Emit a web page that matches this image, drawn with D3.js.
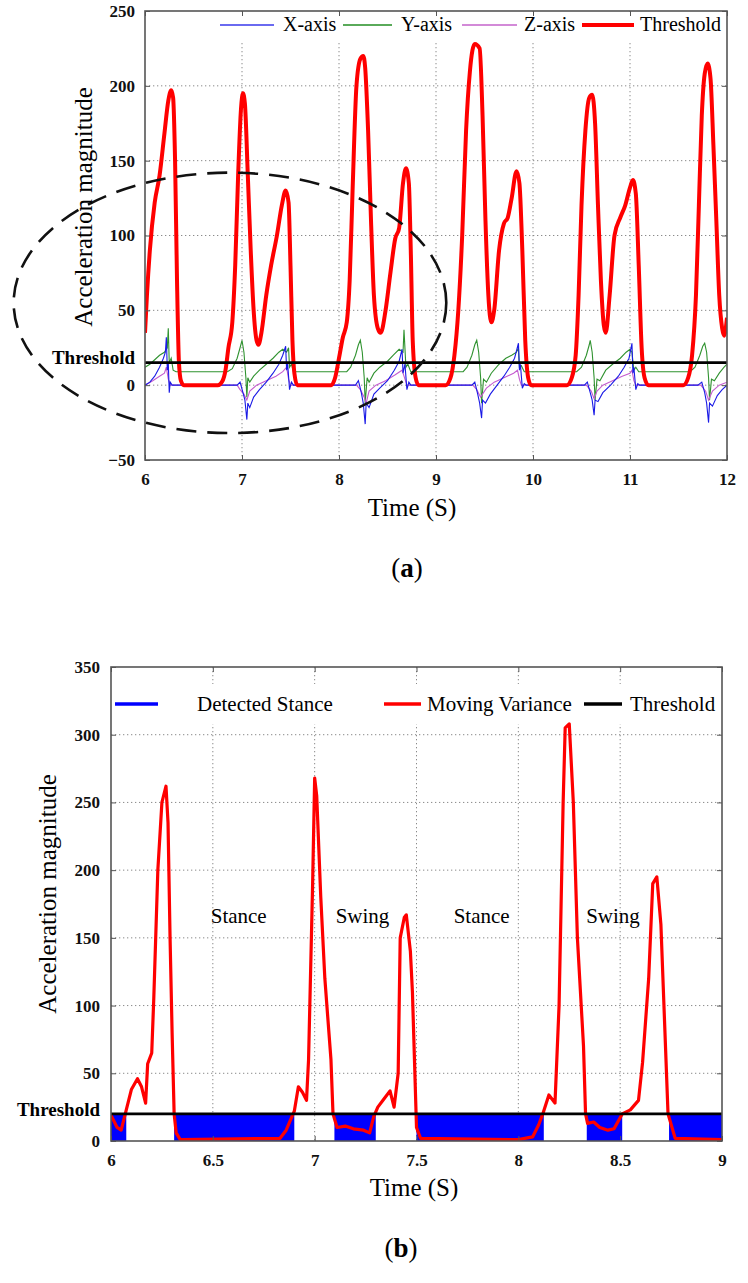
<!DOCTYPE html>
<html><head><meta charset="utf-8">
<script src="https://cdn.jsdelivr.net/npm/d3@7"></script>
<style>
body{margin:0;background:#fff}
svg{display:block}
</style>
</head><body>
<svg id="c" width="748" height="1283"></svg>
<script>
// ---------------- Chart (a) data ----------------
const xTicksA = [6, 7, 8, 9, 10, 11, 12];
const yTicksA = [-50, 0, 50, 100, 150, 200, 250];
const thresholdA = 15;
const legendA = ["X-axis", "Y-axis", "Z-axis", "Threshold"];
const magnitudeA = [
  [6.00,35],[6.02,60],[6.05,90],[6.10,122],[6.15,140],[6.20,168],[6.24,190],[6.27,197],[6.29,192],[6.31,150],[6.33,70],[6.35,15],[6.37,3],[6.40,0],
  [6.75,0],[6.80,3],[6.83,10],[6.86,25],[6.90,42],[6.93,80],[6.96,140],[6.99,185],[7.01,195],[7.03,188],[7.06,140],[7.09,90],[7.12,50],[7.15,30],[7.17,27],[7.20,35],[7.25,60],[7.30,80],[7.36,100],[7.41,120],[7.45,130],[7.48,122],[7.50,80],[7.52,30],[7.54,8],[7.57,0],
  [7.92,0],[7.96,5],[8.00,18],[8.04,32],[8.08,42],[8.11,70],[8.14,130],[8.18,200],[8.22,218],[8.25,220],[8.27,212],[8.30,170],[8.33,110],[8.36,60],[8.40,38],[8.43,35],[8.48,50],[8.53,75],[8.58,98],[8.62,105],[8.66,135],[8.69,145],[8.72,135],[8.74,90],[8.76,30],[8.79,5],[8.82,0],
  [9.10,0],[9.15,5],[9.19,20],[9.23,50],[9.27,100],[9.31,170],[9.35,210],[9.40,228],[9.45,225],[9.48,180],[9.51,110],[9.54,60],[9.57,42],[9.60,50],[9.65,90],[9.70,108],[9.74,112],[9.78,125],[9.83,143],[9.86,135],[9.89,90],[9.92,30],[9.95,5],[9.98,0],
  [10.35,0],[10.40,5],[10.44,20],[10.47,60],[10.50,120],[10.54,170],[10.58,192],[10.61,194],[10.64,175],[10.67,120],[10.70,70],[10.73,40],[10.75,35],[10.79,60],[10.84,100],[10.90,112],[10.95,120],[11.00,132],[11.03,137],[11.06,128],[11.09,80],[11.12,25],[11.15,5],[11.19,0],
  [11.55,0],[11.60,5],[11.64,20],[11.68,60],[11.71,120],[11.74,180],[11.77,208],[11.80,215],[11.83,205],[11.86,160],[11.89,110],[11.92,60],[11.95,38],[11.97,33],[12.00,45]
];
const xAxisA = [
  [6.00,0],[6.05,2],[6.10,6],[6.15,12],[6.19,18],[6.21,22],[6.22,32],[6.23,10],[6.24,15],[6.25,-5],[6.26,2],[6.28,0],
  [6.95,0],[6.98,2],[7.01,-5],[7.03,-10],[7.05,-23],[7.06,-12],[7.08,-15],[7.12,-8],[7.18,-3],[7.25,2],[7.32,8],[7.38,14],[7.42,20],[7.45,26],[7.46,10],[7.47,15],[7.49,-3],[7.51,2],[7.53,0],
  [8.17,0],[8.20,3],[8.23,-5],[8.25,-12],[8.27,-26],[8.28,-12],[8.31,-15],[8.36,-6],[8.42,-2],[8.50,3],[8.57,10],[8.62,16],[8.65,24],[8.66,8],[8.68,14],[8.70,-3],[8.72,2],[8.74,0],
  [9.37,0],[9.40,2],[9.43,-6],[9.45,-12],[9.47,-22],[9.48,-10],[9.51,-12],[9.56,-6],[9.63,0],[9.70,6],[9.76,12],[9.81,18],[9.85,28],[9.86,10],[9.87,14],[9.89,-2],[9.91,1],[9.93,0],
  [10.53,0],[10.56,2],[10.59,-5],[10.61,-10],[10.63,-20],[10.64,-10],[10.67,-11],[10.72,-5],[10.80,0],[10.88,6],[10.94,12],[10.99,18],[11.02,28],[11.03,8],[11.04,12],[11.06,-3],[11.08,1],[11.10,0],
  [11.70,0],[11.74,2],[11.77,-5],[11.79,-12],[11.81,-25],[11.82,-12],[11.85,-14],[11.90,-7],[11.95,-3],[12.00,0]
];
const yAxisA = [
  [6.00,12],[6.05,14],[6.10,17],[6.15,20],[6.20,22],[6.23,25],[6.24,38],[6.25,15],[6.27,18],[6.29,10],[6.32,9],
  [6.85,9],[6.90,11],[6.95,18],[6.98,25],[7.00,30],[7.02,22],[7.04,5],[7.05,-8],[7.06,5],[7.08,2],[7.12,6],[7.18,10],[7.25,14],[7.32,18],[7.38,22],[7.42,24],[7.46,22],[7.48,25],[7.49,12],[7.51,14],[7.53,9],
  [8.08,9],[8.12,12],[8.17,20],[8.20,27],[8.22,30],[8.24,22],[8.26,5],[8.27,-12],[8.29,5],[8.31,2],[8.36,8],[8.42,12],[8.50,16],[8.56,20],[8.62,24],[8.66,22],[8.67,37],[8.69,12],[8.71,14],[8.74,9],
  [9.28,9],[9.32,12],[9.37,20],[9.40,27],[9.42,30],[9.44,22],[9.46,5],[9.47,-12],[9.49,4],[9.52,2],[9.57,8],[9.65,14],[9.72,18],[9.78,20],[9.83,22],[9.85,25],[9.86,12],[9.88,13],[9.91,9],
  [10.45,9],[10.50,12],[10.55,20],[10.58,27],[10.59,30],[10.61,22],[10.63,5],[10.64,-10],[10.66,4],[10.69,3],[10.75,10],[10.82,14],[10.90,18],[10.96,22],[11.00,24],[11.02,22],[11.04,10],[11.06,12],[11.09,9],
  [11.62,9],[11.67,12],[11.72,20],[11.75,26],[11.77,28],[11.79,22],[11.81,5],[11.82,-10],[11.84,4],[11.87,3],[11.92,8],[11.97,12],[12.00,14]
];
const zAxisA = [
  [6.00,0],[6.08,3],[6.15,6],[6.20,8],[6.22,12],[6.24,4],[6.26,0],
  [6.95,0],[6.98,-3],[7.02,-6],[7.05,-10],[7.08,-4],[7.15,0],[7.25,3],[7.35,6],[7.42,9],[7.46,12],[7.48,4],[7.50,0],
  [8.18,0],[8.22,-3],[8.26,-8],[8.28,-12],[8.31,-4],[8.38,0],[8.48,3],[8.58,7],[8.65,10],[8.67,6],[8.70,0],
  [9.38,0],[9.42,-3],[9.46,-8],[9.48,-6],[9.52,-2],[9.60,2],[9.70,5],[9.80,8],[9.84,10],[9.86,4],[9.88,0],
  [10.55,0],[10.60,-4],[10.63,-9],[10.66,-4],[10.72,0],[10.82,3],[10.92,6],[11.00,8],[11.02,10],[11.04,3],[11.06,0],
  [11.73,0],[11.78,-4],[11.81,-10],[11.85,-4],[11.92,0],[12.00,2]
];
// dashed ellipse annotation (centre time, centre value, half-width in s, half-height in value units)
const ellipseCenterA = [6.876, 55];
const ellipseRadiiA = [2.23, 87];

// ---------------- Chart (b) data ----------------
const xTicksB = [6, 6.5, 7, 7.5, 8, 8.5, 9];
const yTicksB = [0, 50, 100, 150, 200, 250, 300, 350];
const thresholdB = 20;
const legendB = ["Detected Stance", "Moving Variance", "Threshold"];
const varianceB = [
  [6.00,19],[6.03,10],[6.05,8],[6.07,20],[6.10,38],[6.13,46],[6.15,40],[6.17,28],[6.18,57],[6.20,65],[6.21,105],[6.23,200],[6.25,250],[6.27,262],[6.28,235],[6.29,150],[6.30,80],[6.31,20],[6.32,6],[6.34,1],
  [6.83,2],[6.86,8],[6.90,22],[6.92,40],[6.94,36],[6.96,30],[6.97,60],[6.99,190],[7.00,268],[7.01,255],[7.03,180],[7.05,120],[7.08,60],[7.09,20],[7.11,10],[7.15,11],[7.19,9],[7.24,8],[7.27,6],[7.29,18],
  [7.31,25],[7.34,31],[7.37,37],[7.39,25],[7.41,50],[7.42,150],[7.44,165],[7.45,167],[7.47,140],[7.48,110],[7.49,60],[7.50,10],[7.52,2],
  [8.00,1],[8.07,3],[8.10,12],[8.12,20],[8.15,34],[8.18,28],[8.20,100],[8.22,250],[8.23,305],[8.25,308],[8.27,250],[8.29,150],[8.32,70],[8.33,20],[8.34,13],[8.37,14],[8.40,10],[8.44,8],[8.47,9],[8.51,20],[8.55,23],
  [8.59,30],[8.61,58],[8.64,120],[8.66,190],[8.68,195],[8.70,160],[8.72,80],[8.735,20],[8.77,2],[9.00,1]
];
const stanceB = [[6.00,6.075],[6.31,6.90],[7.097,7.30],[7.50,8.125],[8.336,8.51],[8.74,9.00]];
const phaseLabelsB = ["Stance", "Swing", "Stance", "Swing"];
const phaseTimesB = [6.627, 7.235, 7.82, 8.465];
const phaseValueB = 166;

// ---------------- font pick ----------------
function pickFont(list) {
  const ctx = document.createElement("canvas").getContext("2d");
  const s = "Acceleration magnitude Threshold 0123456789";
  ctx.font = "40px monospace";
  const base = ctx.measureText(s).width;
  for (const f of list) {
    ctx.font = `40px "${f}", monospace`;
    if (Math.abs(ctx.measureText(s).width - base) > 0.5) return f;
  }
  return "serif";
}
const SERIF = pickFont(["Liberation Serif", "Times New Roman", "Tinos", "DejaVu Serif", "Noto Serif"]);
const FONT = `"${SERIF}", "Times New Roman", serif`;

// ---------------- Drawing ----------------
const svg = d3.select("#c");
const BOXC = "#555";
const GRIDC = "#8a8a8a";

function frame(g, x, y, xt, yt, W, H, x0, y0) {
  const grid = g.append("g");
  grid.selectAll("line.v").data(xt.slice(1, -1)).join("line")
    .attr("x1", d => x(d)).attr("x2", d => x(d)).attr("y1", y0).attr("y2", y0 + H)
    .attr("stroke", GRIDC).attr("stroke-width", 1).attr("stroke-dasharray", "1.3,2.7");
  grid.selectAll("line.h").data(yt.filter(v => y(v) > y0 + 2 && y(v) < y0 + H - 2)).join("line")
    .attr("x1", x0).attr("x2", x0 + W).attr("y1", d => y(d)).attr("y2", d => y(d))
    .attr("stroke", GRIDC).attr("stroke-width", 1).attr("stroke-dasharray", "1.3,2.7");
}

function axes(g, x, y, xt, yt, xfmt, W, H, x0, y0, yLabelEnd) {
  const bx = g.append("g").attr("transform", `translate(0,${y0 + H})`)
    .call(d3.axisBottom(x).tickValues(xt).tickSize(-5).tickPadding(13).tickFormat(xfmt));
  const tx = g.append("g").attr("transform", `translate(0,${y0})`)
    .call(d3.axisTop(x).tickValues(xt).tickSize(-5).tickFormat(""));
  const ly = g.append("g").attr("transform", `translate(${x0},0)`)
    .call(d3.axisLeft(y).tickValues(yt).tickSize(-5).tickPadding(x0 - yLabelEnd).tickFormat(d3.format("d")));
  const ry = g.append("g").attr("transform", `translate(${x0 + W},0)`)
    .call(d3.axisRight(y).tickValues(yt).tickSize(-5).tickFormat(""));
  [bx, tx, ly, ry].forEach(a => {
    a.select(".domain").remove();
    a.selectAll(".tick line").attr("stroke", BOXC).attr("stroke-width", 1);
    a.selectAll("text").attr("font-size", 17).attr("font-weight", "bold").attr("fill", "#111");
  });
  g.append("rect").attr("x", x0).attr("y", y0).attr("width", W).attr("height", H)
    .attr("fill", "none").attr("stroke", BOXC).attr("stroke-width", 1.6);
}

// ===== Chart (a) =====
{
  const x0 = 145, x1 = 727, y0 = 11, y1 = 460;
  const W = x1 - x0, H = y1 - y0;
  const x = d3.scaleLinear().domain([6, 12]).range([x0, x1]);
  const y = d3.scaleLinear().domain([-50, 250]).range([y1, y0]);
  const g = svg.append("g");
  frame(g, x, y, xTicksA, yTicksA, W, H, x0, y0);
  g.append("rect").attr("x", 207).attr("y", y0 + 1).attr("width", x1 - 208).attr("height", 31).attr("fill", "#fff");

  g.append("clipPath").attr("id", "clipA").append("rect").attr("x", x0).attr("y", y0).attr("width", W).attr("height", H);
  const pl = g.append("g").attr("clip-path", "url(#clipA)");
  const line = d3.line().x(d => x(d[0])).y(d => y(d[1]));
  const lineS = d3.line().x(d => x(d[0])).y(d => y(d[1])).curve(d3.curveMonotoneX);
  pl.append("path").datum(yAxisA).attr("d", line).attr("fill", "none").attr("stroke", "#2f922f").attr("stroke-width", 1.1);
  pl.append("path").datum(zAxisA).attr("d", line).attr("fill", "none").attr("stroke", "#c45ccf").attr("stroke-width", 1.1);
  pl.append("path").datum(xAxisA).attr("d", line).attr("fill", "none").attr("stroke", "#1a1ae6").attr("stroke-width", 1.1);
  pl.append("path").datum(magnitudeA).attr("d", lineS).attr("fill", "none").attr("stroke", "#ff0000").attr("stroke-width", 4).attr("stroke-linejoin", "round");
  pl.append("line").attr("x1", x0).attr("x2", x1).attr("y1", y(thresholdA)).attr("y2", y(thresholdA))
    .attr("stroke", "#000").attr("stroke-width", 2.8);

  axes(g, x, y, xTicksA, yTicksA, d3.format("d"), W, H, x0, y0, 135);

  g.append("text").attr("x", 135).attr("y", y(thresholdA) + 1).attr("text-anchor", "end")
    .attr("font-size", 19).attr("font-weight", "bold").text("Threshold");

  const legColors = ["#6a6af0", "#5aaa5a", "#d38ad8", "#ff0000"];
  const legWidths = [1.8, 1.8, 1.8, 3.8];
  const legLine = [[220, 274], [343, 392], [462, 517], [582, 634]];
  const legText = [283, 401, 524, 640];
  legendA.forEach((t, i) => {
    g.append("line").attr("x1", legLine[i][0]).attr("x2", legLine[i][1]).attr("y1", 25).attr("y2", 25)
      .attr("stroke", legColors[i]).attr("stroke-width", legWidths[i]);
    g.append("text").attr("x", legText[i]).attr("y", 31).attr("font-size", 20).text(t);
  });

  g.append("ellipse")
    .attr("cx", x(ellipseCenterA[0])).attr("cy", y(ellipseCenterA[1]))
    .attr("rx", x(6 + ellipseRadiiA[0]) - x(6)).attr("ry", y(0) - y(ellipseRadiiA[1]))
    .attr("fill", "none").attr("stroke", "#111").attr("stroke-width", 2.6).attr("stroke-dasharray", "20,11");

  g.append("text").attr("transform", `translate(92,207) rotate(-90)`)
    .attr("text-anchor", "middle").attr("font-size", 25).text("Acceleration magnitude");
  g.append("text").attr("x", 412).attr("y", 516).attr("text-anchor", "middle").attr("font-size", 25).text("Time (S)");
  const cap = g.append("text").attr("x", 407).attr("y", 577).attr("text-anchor", "middle").attr("font-size", 27);
  cap.append("tspan").text("(");
  cap.append("tspan").attr("font-weight", "bold").text("a");
  cap.append("tspan").text(")");
}

// ===== Chart (b) =====
{
  const x0 = 111, x1 = 722, y0 = 667, y1 = 1141;
  const W = x1 - x0, H = y1 - y0;
  const x = d3.scaleLinear().domain([6, 9]).range([x0, x1]);
  const y = d3.scaleLinear().domain([0, 350]).range([y1, y0]);
  const g = svg.append("g");
  frame(g, x, y, xTicksB, yTicksB, W, H, x0, y0);
  g.append("rect").attr("x", x0 + 1).attr("y", 684).attr("width", W - 2).attr("height", 40).attr("fill", "#fff");

  g.append("clipPath").attr("id", "clipB").append("rect").attr("x", x0).attr("y", y0).attr("width", W).attr("height", H);
  const pl = g.append("g").attr("clip-path", "url(#clipB)");
  pl.selectAll("rect.st").data(stanceB).join("rect")
    .attr("x", d => x(d[0])).attr("width", d => x(d[1]) - x(d[0]))
    .attr("y", y(thresholdB)).attr("height", y(0) - y(thresholdB)).attr("fill", "#0000ff");
  const line = d3.line().x(d => x(d[0])).y(d => y(d[1]));
  pl.append("path").datum(varianceB).attr("d", line).attr("fill", "none").attr("stroke", "#ff0000")
    .attr("stroke-width", 3.2).attr("stroke-linejoin", "round");
  pl.append("line").attr("x1", x0).attr("x2", x1).attr("y1", y(thresholdB)).attr("y2", y(thresholdB))
    .attr("stroke", "#000").attr("stroke-width", 2.8);

  const fmt = d => (Number.isInteger(d) ? d3.format("d")(d) : d3.format(".1f")(d));
  axes(g, x, y, xTicksB, yTicksB, fmt, W, H, x0, y0, 100);

  g.append("text").attr("x", 100).attr("y", y(thresholdB) + 2).attr("text-anchor", "end")
    .attr("font-size", 19).attr("font-weight", "bold").text("Threshold");

  g.selectAll("text.ph").data(phaseLabelsB).join("text")
    .attr("x", (d, i) => x(phaseTimesB[i])).attr("y", y(phaseValueB) + 7)
    .attr("text-anchor", "middle").attr("font-size", 21).text(d => d);

  const legColors = ["#0000ff", "#ff0000", "#000"];
  const legLine = [[115, 158], [384, 421], [584, 622]];
  const legText = [197, 427, 630];
  legendB.forEach((t, i) => {
    g.append("line").attr("x1", legLine[i][0]).attr("x2", legLine[i][1]).attr("y1", 704).attr("y2", 704)
      .attr("stroke", legColors[i]).attr("stroke-width", 3.4);
    g.append("text").attr("x", legText[i]).attr("y", 711).attr("font-size", 21).text(t);
  });

  g.append("text").attr("transform", `translate(56,894) rotate(-90)`)
    .attr("text-anchor", "middle").attr("font-size", 25).text("Acceleration magnitude");
  g.append("text").attr("x", 414).attr("y", 1196).attr("text-anchor", "middle").attr("font-size", 25).text("Time (S)");
  const cap = g.append("text").attr("x", 401).attr("y", 1257).attr("text-anchor", "middle").attr("font-size", 27);
  cap.append("tspan").text("(");
  cap.append("tspan").attr("font-weight", "bold").text("b");
  cap.append("tspan").text(")");
}

svg.selectAll("text").attr("font-family", FONT).style("font-family", FONT);
</script>
</body></html>
